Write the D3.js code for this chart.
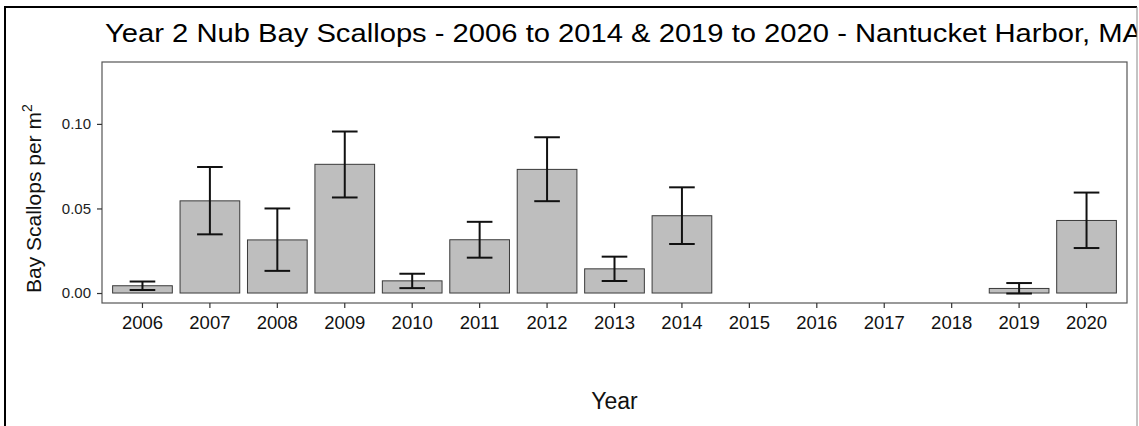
<!DOCTYPE html>
<html lang="en">

<head>
  <title></title>
  <meta charset="UTF-8">
  <style>
    body {
      margin: 0;
      background: #fff;
    }
    text {
      font-family: "Liberation Sans", Arial, sans-serif;
    }
  </style>
</head>

<body>
  <div id="container"></div>
  <script src="https://cdn.jsdelivr.net/npm/d3@7"></script>
  <script>
    const years = ['2006', '2007', '2008', '2009', '2010', '2011', '2012', '2013', '2014',
      '2015', '2016', '2017', '2018', '2019', '2020'];
    // mean density, null where there was no survey
    const means = [0.0043, 0.0545, 0.0314, 0.0761, 0.0072, 0.0315, 0.0731, 0.0143, 0.0457,
      null, null, null, null, 0.0027, 0.0429];
    const errLow = [0.0018, 0.0347, 0.0131, 0.0565, 0.0029, 0.0209, 0.0543, 0.0071, 0.0290,
      null, null, null, null, -0.0003, 0.0266];
    const errHigh = [0.0068, 0.0745, 0.0500, 0.0955, 0.0114, 0.0421, 0.0921, 0.0215, 0.0625,
      null, null, null, null, 0.0059, 0.0594];
    const yTicks = [0, 0.05, 0.10];

    const size = { w: 1139, h: 426 };
    const panel = { left: 102, right: 1127, top: 62, bottom: 303 };

    const svg = d3.select('#container')
      .append('svg')
      .attr('width', size.w)
      .attr('height', size.h);

    // outer frame of the exported figure
    svg.append('line').attr('x1', 5).attr('x2', 5).attr('y1', 7).attr('y2', size.h)
      .attr('stroke', '#000').attr('stroke-width', 2);
    svg.append('line').attr('x1', 4).attr('x2', 1138).attr('y1', 7).attr('y2', 7)
      .attr('stroke', '#000').attr('stroke-width', 2);

    const x = d3.scaleBand()
      .domain(years)
      .range([panel.left, panel.right])
      .paddingInner(0.1)
      .paddingOuter(0.15);

    const y = d3.scaleLinear()
      .domain([-0.0059, 0.1366])
      .range([panel.bottom, panel.top]);

    const data = years.map((d, i) => ({
      year: d,
      mean: means[i],
      lo: errLow[i],
      hi: errHigh[i]
    })).filter(d => d.mean !== null);

    // bars
    svg.append('g')
      .selectAll('rect')
      .data(data)
      .join('rect')
      .attr('x', d => x(d.year) + 0.5)
      .attr('width', x.bandwidth() - 1)
      .attr('y', d => y(d.mean))
      .attr('height', d => y(0) - y(d.mean))
      .attr('fill', '#bebebe')
      .attr('stroke', '#3a3a3a')
      .attr('stroke-width', 1);

    // error bars
    const capW = x.step() * 0.38;
    const eb = svg.append('g')
      .attr('stroke', '#111')
      .attr('stroke-width', 2)
      .selectAll('g')
      .data(data)
      .join('g')
      .attr('transform', d => 'translate(' + (x(d.year) + x.bandwidth() / 2) + ',0)');
    eb.append('line').attr('x1', 0).attr('x2', 0)
      .attr('y1', d => y(d.lo)).attr('y2', d => y(d.hi));
    eb.append('line').attr('x1', -capW / 2).attr('x2', capW / 2)
      .attr('y1', d => y(d.hi)).attr('y2', d => y(d.hi));
    eb.append('line').attr('x1', -capW / 2).attr('x2', capW / 2)
      .attr('y1', d => y(d.lo)).attr('y2', d => y(d.lo));

    // panel border
    svg.append('rect')
      .attr('x', panel.left)
      .attr('y', panel.top)
      .attr('width', panel.right - panel.left)
      .attr('height', panel.bottom - panel.top)
      .attr('fill', 'none')
      .attr('stroke', '#555')
      .attr('stroke-width', 1.2);

    // axes
    const yAxis = svg.append('g')
      .attr('transform', 'translate(' + panel.left + ',0)')
      .call(d3.axisLeft(y).tickValues(yTicks).tickFormat(d3.format('.2f')).tickSize(5).tickPadding(6));
    yAxis.select('.domain').remove();
    yAxis.selectAll('line').attr('stroke', '#333').attr('stroke-width', 1.2);
    yAxis.selectAll('text').attr('font-size', 15).attr('fill', '#222')
      .style('font-family', '"Liberation Sans", Arial, sans-serif');

    const xAxis = svg.append('g')
      .attr('transform', 'translate(0,' + panel.bottom + ')')
      .call(d3.axisBottom(x).tickSize(5).tickPadding(8));
    xAxis.select('.domain').remove();
    xAxis.selectAll('line').attr('stroke', '#333').attr('stroke-width', 1.2);
    xAxis.selectAll('text').attr('font-size', 18.5).attr('fill', '#111')
      .style('font-family', '"Liberation Sans", Arial, sans-serif');

    // titles (the title runs past the right edge, as in the exported figure)
    svg.append('text')
      .attr('x', 105)
      .attr('y', 42)
      .attr('font-size', 26)
      .attr('fill', '#000')
      .attr('textLength', 1037)
      .attr('lengthAdjust', 'spacingAndGlyphs')
      .text('Year 2 Nub Bay Scallops - 2006 to 2014 & 2019 to 2020 - Nantucket Harbor, MA');

    // right edge of the frame sits over the clipped title
    svg.append('rect').attr('x', 1137).attr('y', 0).attr('width', 2).attr('height', size.h)
      .attr('fill', '#fff');
    svg.append('line').attr('x1', 1137).attr('x2', 1137).attr('y1', 7).attr('y2', size.h)
      .attr('stroke', '#888').attr('stroke-width', 1);

    svg.append('text')
      .attr('x', (panel.left + panel.right) / 2)
      .attr('y', 409)
      .attr('text-anchor', 'middle')
      .attr('font-size', 23)
      .attr('fill', '#111')
      .text('Year');

    const yLab = svg.append('text')
      .attr('transform', 'translate(41,293) rotate(-90)')
      .attr('font-size', 21)
      .attr('fill', '#111');
    yLab.append('tspan').text('Bay Scallops per m');
    yLab.append('tspan').attr('dy', -9).attr('font-size', 14).text('2');
  </script>
</body>

</html>
